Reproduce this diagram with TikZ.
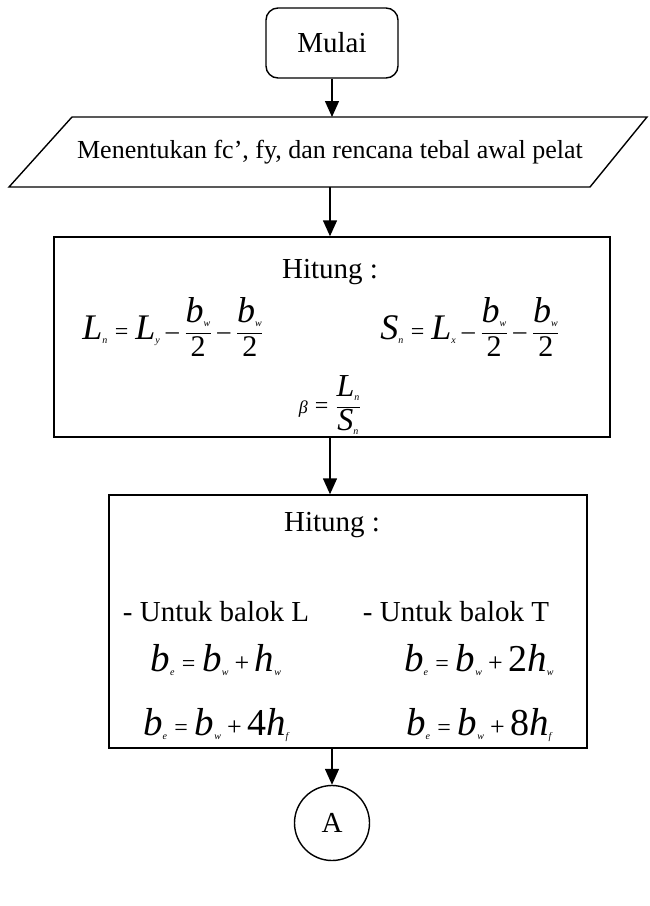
\documentclass[tikz,border=0pt]{standalone}
\usepackage{fontspec}
\setmainfont{Liberation Serif}
\usetikzlibrary{arrows.meta,shapes.geometric}
\newcommand{\vr}[3][36]{\mbox{\fontsize{#1}{#1}\selectfont\itshape #2}_{\mbox{\fontsize{10}{10}\selectfont\itshape #3}}}
\newcommand{\fr}{\frac{\vr{b}{w}}{\mbox{\fontsize{30}{30}\selectfont 2}}}
\newcommand{\eqs}{\mathrel{\mbox{\fontsize{24}{24}\selectfont =}}}
\newcommand{\mns}{\mathbin{\mbox{\fontsize{26}{26}\selectfont –}}}
\newcommand{\pls}{\mathbin{\mbox{\fontsize{26}{26}\selectfont +}}}
\newcommand{\num}[1]{\mbox{\fontsize{38}{38}\selectfont #1}}
\begin{document}
\begin{tikzpicture}[x=1pt,y=-1pt,
  line/.style={line width=1.4pt},
  arr/.style={line width=1.4pt,-{Triangle[length=16pt,width=14pt]}},
  txt/.style={font=\fontsize{29}{33}\selectfont, inner sep=0pt},
  itxt/.style={font=\fontsize{26}{30}\selectfont, inner sep=0pt},
  fml/.style={font=\fontsize{36}{40}\selectfont, inner sep=0pt},
  box/.style={draw,line width=1.4pt,inner sep=0pt}]
\useasboundingbox (0,0) rectangle (649,906);
% start
\node[box,rounded corners=12pt,minimum width=132pt,minimum height=70pt,txt] (start) at (332,43) {Mulai};
% input parallelogram
\coordinate (pBL) at (9,187);
\coordinate (pBR) at (590,187);
\coordinate (pTR) at (647,117);
\coordinate (pTL) at (72,117);
\draw[line] (pBL) -- (pTL) -- (pTR) -- (pBR) -- cycle;
\node[itxt,minimum width=500pt,minimum height=70pt] (input) at (330,152) {Menentukan fc’, fy, dan rencana tebal awal pelat};
% box 1
\node[box,minimum width=556pt,minimum height=200pt] (b1) at (332,337) {};
\node[txt] (h1) at (330,272) {Hitung :};
\node[fml] (ln) at (173,327) {$\displaystyle\vr{L}{n}\eqs\vr{L}{y}\mns\fr\mns\fr$};
\node[fml] (sn) at (470,327) {$\displaystyle\vr{S}{n}\eqs\vr{L}{x}\mns\fr\mns\fr$};
\node[font=\fontsize{30}{34}\selectfont,inner sep=0pt] (beta) at (330,405) {$\displaystyle\mbox{\fontsize{18}{18}\selectfont\itshape β}\eqs\frac{\vr[32]{L}{n}}{\vr[32]{S}{n}}$};
% box 2
\node[box,minimum width=478pt,minimum height=253pt] (b2) at (348,621.5) {};
\node[txt] (h2) at (332,525) {Hitung :};
\node[txt] (uL) at (216,612) {- Untuk balok L};
\node[txt] (uT) at (456,612) {- Untuk balok T};
\node[fml] (f1) at (216,660) {$\vr[39]{b}{e}\eqs\vr[39]{b}{w}\pls\vr[39]{h}{w}$};
\node[fml] (f2) at (479,660) {$\vr[39]{b}{e}\eqs\vr[39]{b}{w}\pls\num{2}\vr[39]{h}{w}$};
\node[fml] (f3) at (216,725) {$\vr[39]{b}{e}\eqs\vr[39]{b}{w}\pls\num{4}\vr[39]{h}{f}$};
\node[fml] (f4) at (479,725) {$\vr[39]{b}{e}\eqs\vr[39]{b}{w}\pls\num{8}\vr[39]{h}{f}$};
% end connector
\node[draw,circle,line width=1.4pt,minimum size=75pt,txt] (A) at (332,823) {A};
% arrows
\draw[arr] (start.south) -- (start.south |- pTL);
\draw[arr] (input.south) -- (input.south |- b1.north);
\draw[arr] (b1.south -| input.south) -- (input.south |- b2.north);
\draw[arr] (b2.south -| A) -- (A.north);
\end{tikzpicture}
\end{document}
